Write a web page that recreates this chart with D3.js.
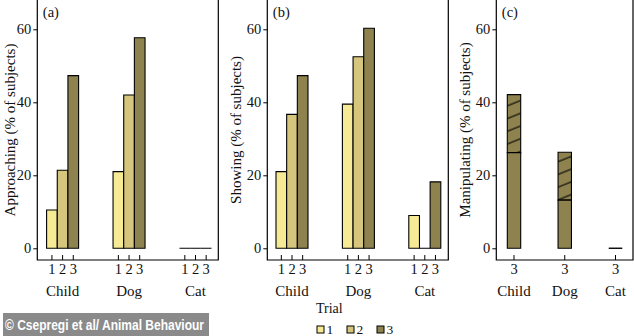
<!DOCTYPE html>
<html><head><meta charset="utf-8">
<script src="https://cdn.jsdelivr.net/npm/d3@7"></script>
<style>body{margin:0;background:#fff}svg{display:block}</style>
</head><body>
<svg id="chart" width="634" height="336"></svg>
<script>
// ---- data ----
const categories = ["Child", "Dog", "Cat"];
const trials = ["1", "2", "3"];
const yTicks = [0, 20, 40, 60];
// (a) Approaching (% of subjects), per trial, by category
const approachT1 = [10.5, 21.0, 0];
const approachT2 = [21.4, 42.0, 0];
const approachT3 = [47.3, 57.7, 0];
// (b) Showing
const showT1 = [21.0, 39.5, 9.0];
const showT2 = [36.7, 52.5, 0];
const showT3 = [47.3, 60.3, 18.2];
// (c) Manipulating, trial 3 only: solid part and total (hatched on top)
const manipSolid = [26.2, 13.2, 0];
const manipTotal = [42.1, 26.3, 0];
const trialColors = ["#f7ea94", "#d5c57d", "#8e834f"];

// ---- layout ----
const svg = d3.select("#chart");
const serif = "'Liberation Serif', 'Times New Roman', serif";
const axisY = 260;
const y = d3.scaleLinear().domain([0, 60]).range([248.3, 29.3]);

// bar as a path so that zero-height bars still draw as a line
const barPath = (x, w, v0, v1) => `M${x},${y(v0)}V${y(v1)}H${x + w}V${y(v0)}Z`;

const defs = svg.append("defs");
const pat = defs.append("pattern").attr("id", "hatch")
  .attr("patternUnits", "userSpaceOnUse").attr("width", 20).attr("height", 11.8)
  .attr("patternTransform", "rotate(-22)");
pat.append("rect").attr("width", 20).attr("height", 11.8).attr("fill", trialColors[2]);
pat.append("line").attr("x1", 0).attr("x2", 20).attr("y1", 5).attr("y2", 5)
  .attr("stroke", "#000").attr("stroke-width", 1.1);

const panels = [
  {label: "(a)", title: "Approaching (% of subjects)", left: 37.3, right: 218.3, padL: 25.3, padR: 22.8,
   series: [approachT1, approachT2, approachT3], trials: trials, bw: 32, titleX: 10},
  {label: "(b)", title: "Showing (% of subjects)", left: 267.3, right: 448.3, padL: 24.7, padR: 23.5,
   series: [showT1, showT2, showT3], trials: trials, bw: 32, titleX: 236},
  {label: "(c)", title: "Manipulating (% of subjects)", left: 496.3, right: 633, padL: 17.7, padR: 17.5,
   series: null, trials: ["3"], bw: 13.4, titleX: 465}
];

panels.forEach((p) => {
  const g = svg.append("g");
  const xGroup = d3.scalePoint().domain(categories).range([p.left + p.padL, p.right - p.padR]);
  const xTrial = d3.scaleBand().domain(p.trials).range([-p.bw / 2, p.bw / 2]);

  // frame
  g.append("path")
    .attr("d", `M${p.left},-1V${axisY}H${p.right}V-1`)
    .attr("fill", "none").attr("stroke", "#000").attr("stroke-width", 1.2);

  // y axis
  const ya = g.append("g").attr("transform", `translate(${p.left},0)`)
    .call(d3.axisLeft(y).tickValues(yTicks).tickSize(4).tickPadding(2));
  ya.select(".domain").remove();
  ya.selectAll("text").attr("font-family", serif).attr("font-size", 14.5).attr("fill", "#111");
  ya.selectAll("line").attr("stroke", "#000");

  // bars
  if (p.series) {
    p.series.forEach((vals, ti) => {
      g.selectAll(null).data(categories).enter().append("path")
        .attr("d", (c, i) => barPath(xGroup(c) + xTrial(trials[ti]), xTrial.bandwidth(), 0, vals[i]))
        .attr("fill", trialColors[ti]).attr("stroke", "#000").attr("stroke-width", 1.1);
    });
  } else {
    g.selectAll(null).data(categories).enter().append("path")
      .attr("d", (c, i) => barPath(xGroup(c) + xTrial("3"), xTrial.bandwidth(), manipSolid[i], manipTotal[i]))
      .attr("fill", "url(#hatch)").attr("stroke", "#000").attr("stroke-width", 1.1);
    g.selectAll(null).data(categories).enter().append("path")
      .attr("d", (c, i) => barPath(xGroup(c) + xTrial("3"), xTrial.bandwidth(), 0, manipSolid[i]))
      .attr("fill", trialColors[2]).attr("stroke", "#000").attr("stroke-width", 1.1);
  }

  // x axis ticks (inward) with trial labels, per group
  categories.forEach(c => {
    const xa = g.append("g").attr("transform", `translate(${xGroup(c)},${axisY})`)
      .call(d3.axisBottom(xTrial).tickSize(-5).tickPadding(4));
    xa.select(".domain").remove();
    xa.selectAll("line").attr("stroke", "#000");
    xa.selectAll("text").attr("font-family", serif).attr("font-size", 14.5).attr("fill", "#111");
  });
  g.selectAll(null).data(categories).enter().append("text")
    .attr("x", c => xGroup(c)).attr("y", 296)
    .attr("text-anchor", "middle").attr("font-family", serif).attr("font-size", 15).attr("fill", "#111")
    .text(c => c);

  // panel label
  g.append("text").attr("x", p.left + 5.5).attr("y", 17)
    .attr("font-family", serif).attr("font-size", 14.5).attr("fill", "#111").text(p.label);

  // y title
  g.append("text")
    .attr("transform", `translate(${p.titleX},${130}) rotate(-90)`)
    .attr("text-anchor", "middle").attr("dy", "0.35em")
    .attr("font-family", serif).attr("font-size", 15).attr("fill", "#111")
    .text(p.title);
});

// legend
svg.append("text").attr("x", 316).attr("y", 313)
  .attr("font-family", serif).attr("font-size", 14).attr("fill", "#111").text("Trial");
const legX = d3.scalePoint().domain(trials).range([317, 377]);
const lg = svg.selectAll(".leg").data(trials).enter().append("g")
  .attr("transform", d => `translate(${legX(d)},326)`);
lg.append("rect").attr("width", 7).attr("height", 7)
  .attr("fill", (d, i) => trialColors[i]).attr("stroke", "#000").attr("stroke-width", 1);
lg.append("text").attr("x", 9.5).attr("y", 7.5)
  .attr("font-family", serif).attr("font-size", 13.5).attr("fill", "#111").text(d => d);

// credit
svg.append("rect").attr("x", 3).attr("y", 313).attr("width", 206).attr("height", 23).attr("fill", "#8a8a8a");
svg.append("text").attr("x", 5).attr("y", 330)
  .attr("font-family", "'Liberation Sans', Arial, sans-serif").attr("font-weight", "bold")
  .attr("font-size", 14).attr("fill", "#fff")
  .attr("textLength", 199).attr("lengthAdjust", "spacingAndGlyphs")
  .text("© Csepregi et al/ Animal Behaviour");
</script>
</body></html>
